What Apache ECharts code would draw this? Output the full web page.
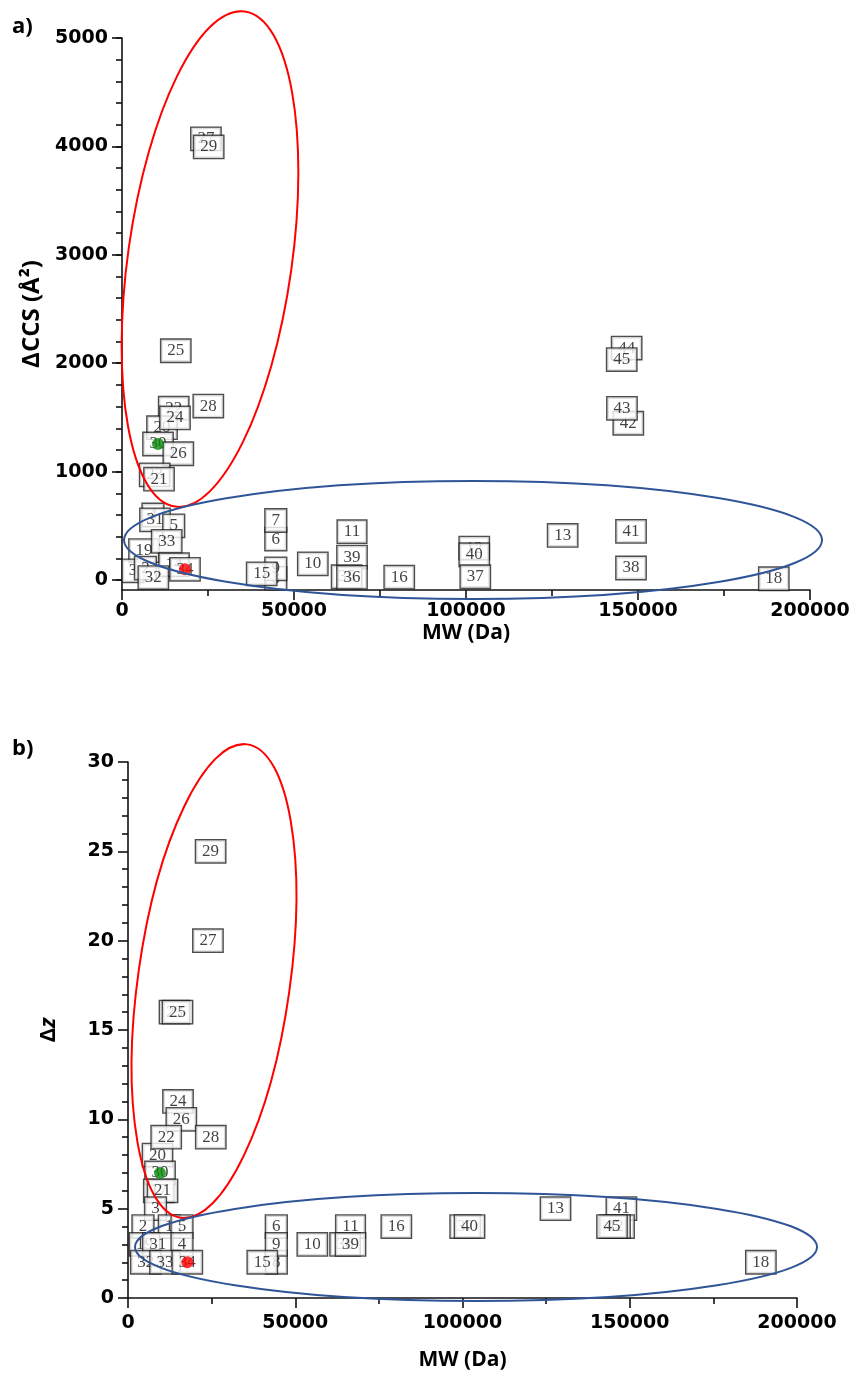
<!DOCTYPE html>
<html>
<head>
<meta charset="utf-8">
<script src="https://cdn.jsdelivr.net/npm/echarts@6/dist/echarts.min.js"></script>
<style>
  html, body { margin: 0; padding: 0; background: #fff; }
  #chart { width: 853px; height: 1385px; }
</style>
</head>
<body>
<div id="chart"></div>
<script>
// ---- Panel a: ΔCCS (Å²) against MW (Da); listed back to front so later boxes sit on top
const idsA = ['27','29','25','22','28','20','24','30','26','23','21',
              '4','31','5','19','33','3','2','14','32','34',
              '6','7','8','9','15','10','11','39','35','36','16',
              '12','40','37','13','41','38','44','45','42','43','18'];
const mwA  = [24400,25200,15640,15030,25090,11630,15400,10470,16370,9500,10760,
              9000,9590,15030,6400,12990,3200,6800,15120,9100,18310,
              44710,44710,44710,44710,40610,55470,66860,66860,65300,66860,80590,
              102400,102400,102700,128100,147970,147970,146700,145270,147180,145340,189480];
const ccsA = [4070,3995,2115,1585,1605,1405,1495,1255,1165,970,930,
              600,555,500,272,357,85,110,141,23,99,
              378,549,16,103,57,149,446,212,30,25,26,
              295,233,30,411,449,111,2140,2034,1446,1584,12];

// ---- Panel b: Δz against MW (Da)
const idsB = ['29','27','23','25','24','26','20','22','28','30','17','21',
              '3','2','1','5','19','31','4','32','33','34',
              '6','8','9','15','10','11','36','39','16','37','40',
              '13','41','44','42','45','18'];
const mwB  = [24700,23900,13900,14800,14950,15940,8820,11420,24750,9570,9200,10310,
              8220,4480,12350,16140,4930,8910,16140,5320,11060,17730,
              44340,44340,44340,40150,55100,66520,64900,66520,80220,100800,102100,
              127800,147500,146800,145600,144700,189200];
const dzB  = [25,20,16,16,11,10,8,9,9,7,6,6,
              5,4,4,4,3,3,3,2,2,2,
              4,2,3,2,3,4,3,3,4,4,4,
              5,5,4,4,4,2];

// Highlighted proteins (dot drawn over the box)
const markedIds    = ['30','34'];
const markedColors = ['#0a8a0a','#ff0000'];

// Tick values
const mwTicks     = [0,50000,100000,150000,200000];
const ccsTicks    = [0,1000,2000,3000,4000,5000];
const ccsMinor    = [0,200,400,600,800,1000,1200,1400,1600,1800,2000,2200,2400,2600,2800,
                     3000,3200,3400,3600,3800,4000,4200,4400,4600,4800,5000];
const dzTicks     = [0,5,10,15,20,25,30];

// Grouping ellipses: centre in data units, radii in px, tilt in degrees
const groupEllipses = [
  { series: 0, center: [25580, 2961], rx: 82, ry: 250, tilt: -8, color: '#ff0000' },
  { series: 0, center: [102040, 369], rx: 349, ry: 59, tilt: 0, color: '#2f5597' },
  { series: 1, center: [25710, 17.74], rx: 76, ry: 239, tilt: -8, color: '#ff0000' },
  { series: 1, center: [104040, 2.85], rx: 341, ry: 54, tilt: 0, color: '#2f5597' }
];

const plain = v => String(v);
const tickFont = { fontFamily: 'DejaVu Sans', fontWeight: 'bold', fontSize: 19, color: '#000' };
const nameFont = { fontFamily: 'Open Sans', fontWeight: 700, fontSize: 21, color: '#000' };
const yNameFont = { fontFamily: 'Open Sans', fontWeight: 700, fontSize: 24, color: '#000' };
const axisLineStyle = { color: '#111', width: 1.6 };

function mwAxis(gridIndex, nameGap, margin) {
  return {
    type: 'value', gridIndex, min: 0, max: 200000, interval: 50000,
    name: 'MW (Da)', nameLocation: 'middle', nameGap, nameTextStyle: nameFont,
    axisLine: { show: true, onZero: false, lineStyle: axisLineStyle },
    axisTick: { show: true, length: 10, customValues: mwTicks, lineStyle: axisLineStyle },
    minorTick: { show: true, splitNumber: 2, length: 6, lineStyle: axisLineStyle },
    axisLabel: Object.assign({ margin, formatter: plain, customValues: mwTicks }, tickFont),
    splitLine: { show: false }, minorSplitLine: { show: false }
  };
}

function boxSeries(ids, xs, ys, xi, yi) {
  return {
    type: 'scatter', xAxisIndex: xi, yAxisIndex: yi,
    symbol: 'rect', symbolSize: 1, itemStyle: { color: 'rgba(0,0,0,0)' },
    data: ids.map((id, i) => [xs[i], ys[i], id]),
    label: {
      show: true, position: 'inside', formatter: p => p.data[2],
      fontFamily: 'Liberation Serif', fontSize: 17, lineHeight: 17, color: '#111',
      backgroundColor: '#fff', borderColor: '#222', borderWidth: 1.4, padding: [3, 6, 2, 6]
    },
    emphasis: { disabled: true }, silent: true, animation: false, z: 2
  };
}

function dotSeries(ids, xs, ys, xi, yi) {
  return markedIds.map((id, k) => {
    const i = ids.indexOf(id);
    return {
      type: 'scatter', xAxisIndex: xi, yAxisIndex: yi, symbol: 'circle', symbolSize: 12,
      itemStyle: { color: markedColors[k] }, data: [[xs[i], ys[i]]],
      emphasis: { disabled: true }, silent: true, animation: false, z: 5
    };
  });
}

const option = {
  animation: false,
  backgroundColor: '#fff',
  grid: [
    { left: 122, right: 43, top: 38, bottom: 795 },
    { left: 128, right: 56, top: 762, bottom: 87 }
  ],
  xAxis: [mwAxis(0, 33, 12), mwAxis(1, 52, 16)],
  yAxis: [
    {
      type: 'value', gridIndex: 0, position: 'left', min: -92, max: 5000,
      name: 'ΔCCS (Å²)', nameLocation: 'middle', nameGap: 62, nameRotate: 90, nameTextStyle: yNameFont,
      axisLine: { show: true, lineStyle: axisLineStyle },
      axisTick: { show: true, length: 10, customValues: ccsTicks, lineStyle: axisLineStyle },
      axisLabel: Object.assign({ margin: 14, formatter: plain, customValues: ccsTicks }, tickFont),
      splitLine: { show: false }
    },
    {
      type: 'value', gridIndex: 0, position: 'left', min: -92, max: 5000,
      axisLine: { show: false },
      axisTick: { show: true, length: 6, customValues: ccsMinor, lineStyle: axisLineStyle },
      axisLabel: { show: false }, splitLine: { show: false }
    },
    {
      type: 'value', gridIndex: 1, position: 'left', min: 0, max: 30, interval: 5,
      name: 'Δ{i|z}', nameLocation: 'middle', nameGap: 68, nameRotate: 90,
      nameTextStyle: Object.assign({ rich: { i: { fontFamily: 'Open Sans', fontWeight: 700, fontStyle: 'italic', fontSize: 22 } } }, nameFont, { fontSize: 22 }),
      axisLine: { show: true, onZero: false, lineStyle: axisLineStyle },
      axisTick: { show: true, length: 10, customValues: dzTicks, lineStyle: axisLineStyle },
      minorTick: { show: true, splitNumber: 5, length: 6, lineStyle: axisLineStyle },
      axisLabel: Object.assign({ margin: 14, formatter: plain, customValues: dzTicks }, tickFont),
      splitLine: { show: false }, minorSplitLine: { show: false }
    }
  ],
  series: [
    boxSeries(idsA, mwA, ccsA, 0, 0),
    boxSeries(idsB, mwB, dzB, 1, 2),
    ...dotSeries(idsA, mwA, ccsA, 0, 0),
    ...dotSeries(idsB, mwB, dzB, 1, 2)
  ]
};

const chart = echarts.init(document.getElementById('chart'), null, { renderer: 'canvas' });
chart.setOption(option);

// Panel letters and grouping ellipses, placed through the axes' own scales
const graphics = [
  { type: 'text', left: 12, top: 16, style: { text: 'a)', font: 'bold 22px "Open Sans"', fill: '#000' } },
  { type: 'text', left: 12, top: 738, style: { text: 'b)', font: 'bold 22px "Open Sans"', fill: '#000' } }
];
groupEllipses.forEach(e => {
  const p = chart.convertToPixel({ seriesIndex: e.series }, e.center);
  graphics.push({
    type: 'ellipse', x: p[0], y: p[1], rotation: e.tilt * Math.PI / 180,
    shape: { cx: 0, cy: 0, rx: e.rx, ry: e.ry },
    style: { fill: 'transparent', stroke: e.color, lineWidth: 2 },
    z: 100, silent: true
  });
});
chart.setOption({ graphic: graphics });
</script>
</body>
</html>
